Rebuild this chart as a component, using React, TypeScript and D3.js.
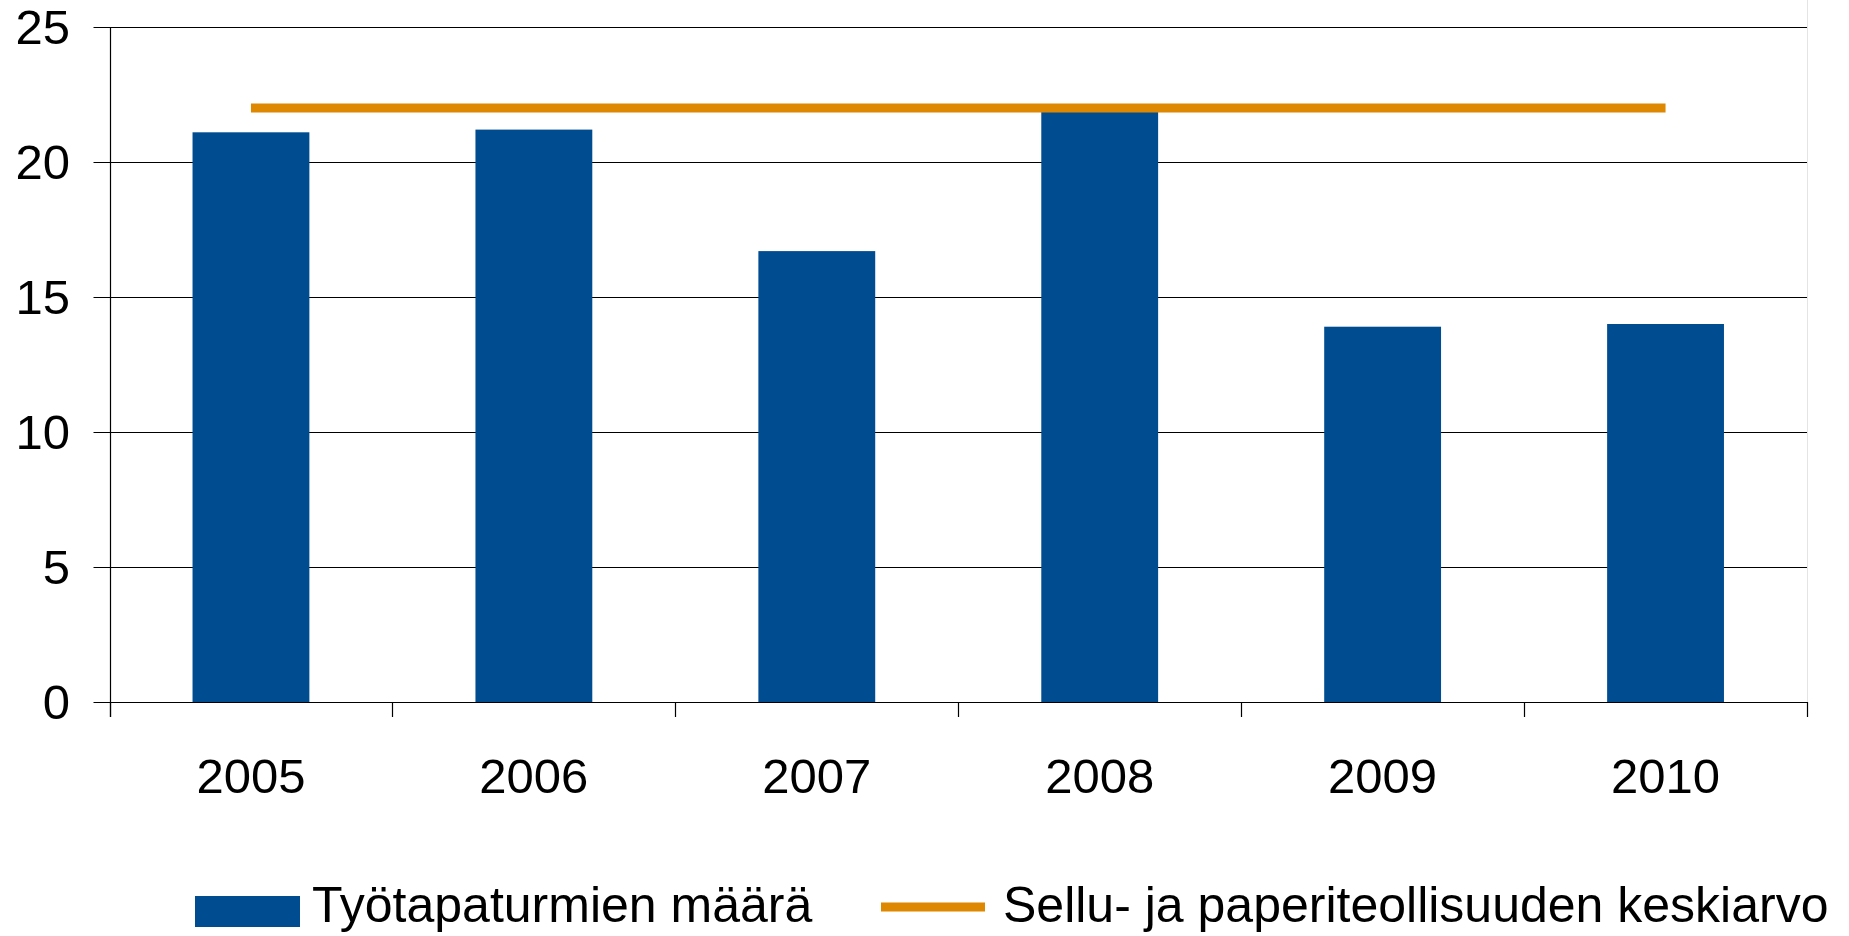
import React, { useEffect, useRef } from 'react';
import * as d3 from 'd3';

// values
const years = ['2005', '2006', '2007', '2008', '2009', '2010'];
const accidents = [21.1, 21.2, 16.7, 21.9, 13.9, 14.0];
const industryAverage = [22, 22, 22, 22, 22, 22];
const yTicks = [0, 5, 10, 15, 20, 25];
const legendLabels = ['Työtapaturmien määrä', 'Sellu- ja paperiteollisuuden keskiarvo'];

const WIDTH = 1849;
const HEIGHT = 936;
const BLUE = '#004C91';
const ORANGE = '#DE8700';
const FONT = '"Liberation Sans", Arial, sans-serif';

const App = () => {
  const svgRef = useRef<SVGSVGElement>(null);

  useEffect(() => {
    if (!svgRef.current) return;
    const svg = d3.select(svgRef.current);
    svg.selectAll('*').remove();

    const left = 109.5;
    const right = 1807;
    const top = 27;
    const bottom = 702;

    const x = d3.scaleBand<string>().domain(years).range([left, right]).padding(0);
    const xBar = d3.scaleBand<string>().domain(years).range([left, right])
      .paddingInner(0.587).paddingOuter(0.2935);
    const y = d3.scaleLinear().domain([0, 25]).range([bottom, top]);
    const crisp = (v: number) => Math.round(v) + 0.5;

    // light border at the right
    svg.append('line')
      .attr('x1', right + 0.5).attr('x2', right + 0.5)
      .attr('y1', 0).attr('y2', bottom)
      .attr('stroke', '#e4e4e4').attr('stroke-width', 1);

    // gridlines + y ticks
    yTicks.forEach(t => {
      svg.append('line')
        .attr('x1', left - 16).attr('x2', right)
        .attr('y1', crisp(y(t))).attr('y2', crisp(y(t)))
        .attr('stroke', '#000').attr('stroke-width', 1.2);
      svg.append('text')
        .attr('x', 70).attr('y', y(t)).attr('dy', '0.35em')
        .attr('text-anchor', 'end')
        .style('font-family', FONT).style('font-size', '49px')
        .attr('fill', '#000')
        .text(t);
    });

    // bars
    svg.append('g').selectAll('rect')
      .data(accidents)
      .join('rect')
      .attr('x', (d, i) => xBar(years[i])!)
      .attr('width', xBar.bandwidth())
      .attr('y', d => y(d))
      .attr('height', d => y(0) - y(d))
      .attr('fill', BLUE);

    // y axis line
    svg.append('line')
      .attr('x1', crisp(left)).attr('x2', crisp(left))
      .attr('y1', top).attr('y2', bottom + 15)
      .attr('stroke', '#000').attr('stroke-width', 1.2);

    // x axis ticks at category boundaries
    const boundaries = years.map(yr => x(yr)!).concat([right]);
    boundaries.forEach(b => {
      svg.append('line')
        .attr('x1', crisp(b)).attr('x2', crisp(b))
        .attr('y1', bottom).attr('y2', bottom + 15)
        .attr('stroke', '#000').attr('stroke-width', 1.2);
    });

    // x labels
    years.forEach(yr => {
      svg.append('text')
        .attr('x', x(yr)! + x.bandwidth() / 2).attr('y', 793)
        .attr('text-anchor', 'middle')
        .style('font-family', FONT).style('font-size', '49px')
        .attr('fill', '#000')
        .text(yr);
    });

    // average line
    const line = d3.line<number>()
      .x((d, i) => x(years[i])! + x.bandwidth() / 2)
      .y(d => y(d));
    svg.append('path')
      .datum(industryAverage)
      .attr('d', line)
      .attr('fill', 'none')
      .attr('stroke', ORANGE)
      .attr('stroke-width', 9);

    // legend
    const legendBaseline = 922;
    svg.append('rect')
      .attr('x', 195).attr('y', 896).attr('width', 105).attr('height', 31)
      .attr('fill', BLUE);
    svg.append('text')
      .attr('x', 312).attr('y', legendBaseline)
      .style('font-family', FONT).style('font-size', '50px')
      .attr('fill', '#000')
      .text(legendLabels[0]);
    svg.append('line')
      .attr('x1', 881).attr('x2', 985)
      .attr('y1', 907).attr('y2', 907)
      .attr('stroke', ORANGE).attr('stroke-width', 9);
    svg.append('text')
      .attr('x', 1003).attr('y', legendBaseline)
      .style('font-family', FONT).style('font-size', '50px')
      .attr('fill', '#000')
      .text(legendLabels[1]);
  }, []);

  return (
    <svg
      ref={svgRef}
      width={WIDTH}
      height={HEIGHT}
      style={{ position: 'absolute', left: 0, top: 0, display: 'block', background: '#fff' }}
    />
  );
};

export default App;
